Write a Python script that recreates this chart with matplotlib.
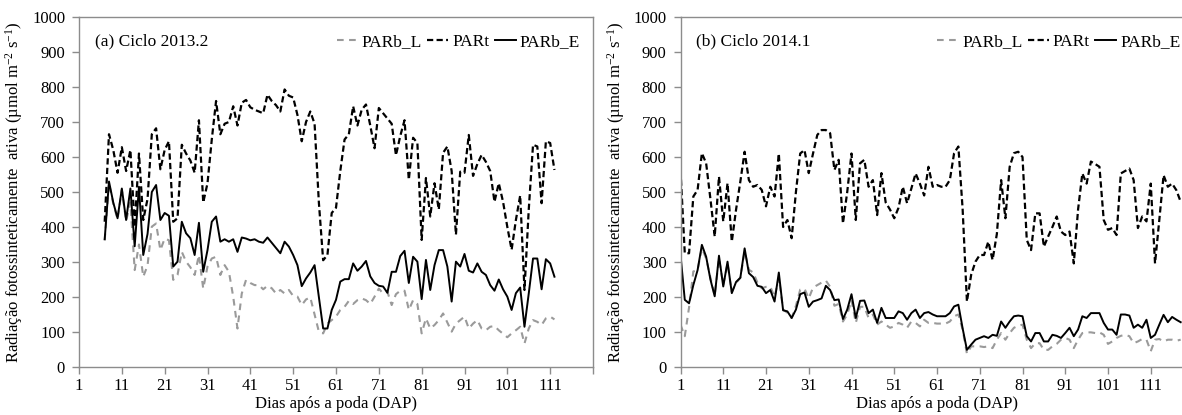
import matplotlib
matplotlib.use("Agg")
import matplotlib.pyplot as plt
import numpy as np

plt.rcParams['font.family'] = ['Liberation Serif', 'DejaVu Serif']
plt.rcParams['mathtext.fontset'] = 'custom'
plt.rcParams['mathtext.rm'] = 'Liberation Serif'
plt.rcParams['mathtext.it'] = 'Liberation Serif:italic'

# ---------------- data: (a) Ciclo 2013.2 ----------------
days_a = list(range(7, 113))
part_a = [415, 665, 620, 555, 628, 560, 620, 400, 610, 420, 480, 665, 682, 565, 620, 645,
          415, 425, 635, 610, 590, 555, 705, 470, 525, 650, 760, 665, 695, 700, 745, 690,
          755, 763, 742, 735, 730, 725, 778, 760, 748, 730, 793, 775, 770, 720, 645, 700,
          730, 695, 470, 305, 320, 440, 455, 560, 650, 665, 745, 690, 735, 750, 690, 625,
          740, 725, 710, 695, 605, 660, 705, 535, 655, 640, 363, 540, 430, 525, 450, 612,
          630, 560, 378, 558, 555, 663, 546, 580, 606, 586, 560, 472, 525, 472, 400, 335,
          420, 490, 220, 450, 635, 630, 468, 645, 640, 563]
parbe_a = [365, 530, 470, 425, 510, 420, 510, 345, 515, 320, 380, 500, 520, 420, 440, 432,
           287, 301, 415, 382, 368, 320, 412, 272, 334, 415, 430, 358, 365, 358, 365, 329,
           370, 367, 362, 365, 358, 355, 370, 355, 340, 325, 358, 344, 320, 291, 231, 253,
           270, 291, 200, 110, 110, 163, 192, 244, 251, 251, 296, 275, 287, 303, 259, 240,
           232, 230, 212, 272, 272, 317, 332, 240, 315, 301, 194, 306, 220, 291, 334, 334,
           287, 187, 301, 287, 323, 275, 270, 296, 272, 263, 234, 218, 250, 222, 201, 163,
           211, 227, 115, 210, 310, 310, 222, 308, 296, 258]
parbl_a = [362, 525, 466, 422, 506, 417, 470, 277, 350, 258, 290, 401, 410, 334, 367, 362,
           249, 263, 329, 301, 285, 263, 320, 224, 287, 310, 315, 263, 291, 272, 201, 110,
           210, 249, 240, 234, 234, 222, 232, 225, 210, 220, 210, 220, 203, 201, 177, 193,
           199, 150, 101, 96, 124, 134, 144, 163, 172, 189, 180, 191, 196, 191, 180, 201,
           224, 210, 215, 177, 208, 218, 218, 163, 191, 180, 96, 139, 110, 120, 134, 153,
           127, 101, 124, 134, 144, 110, 124, 134, 110, 105, 115, 117, 105, 95, 85, 96,
           105, 115, 67, 110, 134, 129, 120, 139, 144, 136]

# ---------------- data: (b) Ciclo 2014.1 ----------------
days_b = list(range(1, 119))
part_b = [563, 325, 325, 487, 506, 611, 582, 480, 373, 544, 416, 525, 358, 450, 530, 615,
          534, 515, 520, 506, 459, 515, 487, 610, 400, 420, 368, 500, 610, 620, 554, 610,
          663, 677, 677, 668, 563, 592, 410, 500, 610, 420, 582, 592, 515, 534, 434, 554,
          470, 450, 425, 455, 515, 468, 510, 553, 524, 490, 572, 515, 520, 515, 515, 534,
          611, 630, 450, 187, 264, 301, 320, 320, 358, 306, 380, 534, 425, 572, 611, 615,
          600, 363, 334, 439, 439, 344, 373, 400, 430, 387, 377, 387, 296, 450, 553, 524,
          587, 580, 572, 420, 392, 397, 377, 553, 560, 567, 534, 397, 430, 416, 524, 296,
          420, 548, 515, 524, 505, 472]
parbe_b = [321, 192, 182, 234, 277, 349, 315, 250, 202, 318, 230, 301, 211, 243, 255, 339,
           268, 257, 232, 229, 211, 220, 187, 270, 162, 159, 140, 164, 208, 213, 172, 187,
           191, 196, 232, 220, 191, 193, 137, 164, 208, 140, 189, 190, 154, 164, 126, 169,
           140, 140, 140, 159, 154, 135, 154, 164, 140, 154, 157, 150, 145, 145, 145, 154,
           173, 178, 110, 49, 64, 78, 83, 88, 83, 92, 89, 130, 112, 130, 145, 147,
           145, 88, 73, 97, 97, 73, 73, 92, 89, 83, 97, 112, 88, 107, 145, 140,
           154, 154, 154, 126, 107, 107, 92, 150, 150, 147, 112, 121, 112, 135, 83, 92,
           121, 149, 128, 143, 135, 128]
parbl_b = [121, 88, 170, 273, 277, 340, 310, 255, 205, 310, 235, 295, 215, 240, 255, 330,
           278, 270, 241, 225, 229, 230, 200, 255, 164, 155, 140, 175, 221, 224, 196, 227,
           234, 241, 247, 229, 175, 180, 130, 150, 191, 126, 172, 172, 140, 150, 121, 130,
           121, 112, 116, 126, 121, 112, 130, 126, 116, 135, 126, 126, 124, 124, 124, 130,
           145, 150, 107, 38, 59, 59, 59, 57, 59, 54, 78, 97, 78, 97, 112, 118,
           121, 78, 54, 68, 68, 49, 49, 59, 66, 78, 83, 78, 54, 78, 97, 99,
           99, 97, 99, 92, 66, 73, 83, 89, 92, 88, 68, 73, 80, 78, 45, 78,
           80, 73, 78, 78, 75, 78]

titles = ["(a) Ciclo 2013.2", "(b) Ciclo 2014.1"]
yticks = list(range(0, 1001, 100))
xticks = list(range(1, 112, 10))
ylabel = "Radiação fotossinteticamente  ativa (µmol m$^{-2}$ s$^{-1}$)"
xlabel = "Dias após a poda (DAP)"

W, H = 1182, 415
fig = plt.figure(figsize=(W / 100, H / 100), dpi=100)

spine_col = '#8c8c8c'
gray = '#9a9a9a'

panels = [
    (days_a, part_a, parbe_a, parbl_a, titles[0], [79 / W, 1 - 367 / H, 514 / W, 350 / H]),
    (days_b, part_b, parbe_b, parbl_b, titles[1], [680.5 / W, 1 - 367 / H, 513 / W, 350 / H]),
]

for days, part, parbe, parbl, title, pos in panels:
    ax = fig.add_axes(pos)
    l1, = ax.plot(days, parbl, color=gray, lw=1.5, dashes=(3.2, 2.6), label='PARb_L')
    l2, = ax.plot(days, part, color='black', lw=1.6, dashes=(2.8, 1.5), label='PARt')
    l3, = ax.plot(days, parbe, color='black', lw=1.4, label='PARb_E')
    ax.set_xlim(1, 121)
    ax.set_ylim(0, 1000)
    ax.set_yticks(yticks)
    ax.set_xticks(xticks + [121])
    ax.set_xticklabels([str(t) for t in xticks] + [''])
    for s in ax.spines.values():
        s.set_color(spine_col)
        s.set_linewidth(1.0)
    ax.tick_params(axis='both', direction='out', length=5, width=1.0, color=spine_col,
                   labelsize=12, pad=3, labelcolor='black')
    ax.tick_params(axis='y', pad=5)
    ax.set_ylabel(ylabel, fontsize=12, labelpad=5)
    ax.set_xlabel(xlabel, fontsize=12, labelpad=1)
    ax.text(0.031, 0.929, title, transform=ax.transAxes, fontsize=12.5, va='center', ha='left')
    leg = ax.legend(handles=[l1, l2, l3], loc='center right', bbox_to_anchor=(0.975, 0.929),
                    ncol=3, frameon=False, fontsize=12.5, handlelength=1.2, handletextpad=0.25,
                    columnspacing=0.3, borderaxespad=0, borderpad=0)

fig.savefig("out.png", dpi=100)
